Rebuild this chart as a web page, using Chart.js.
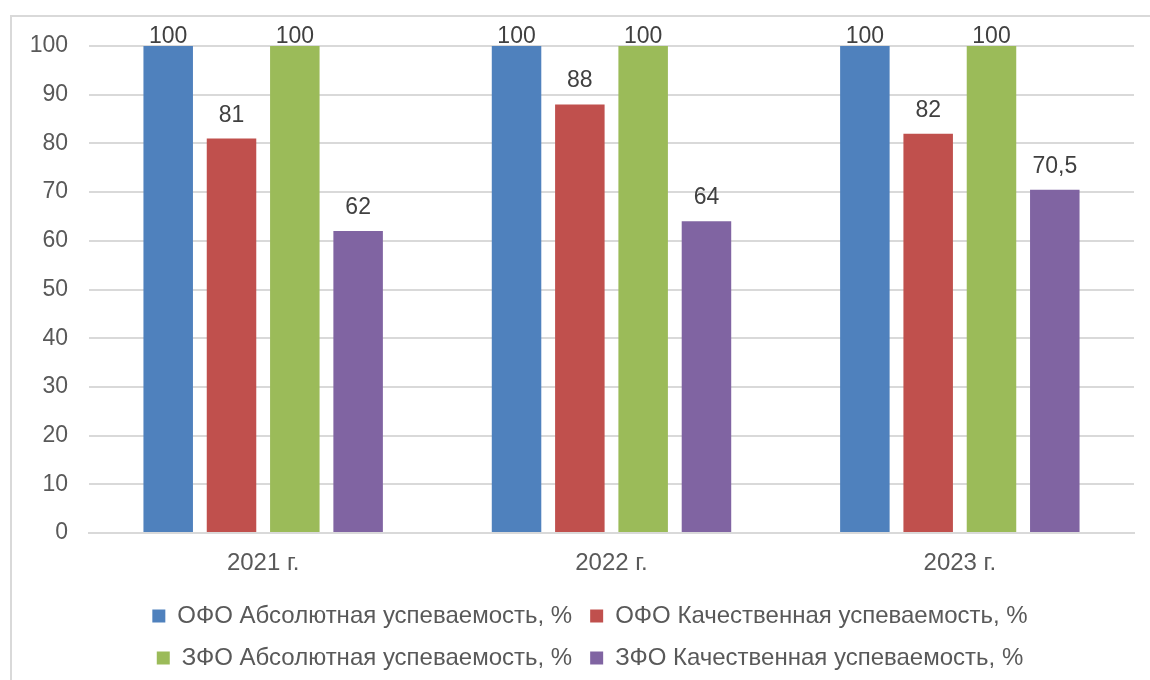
<!DOCTYPE html>
<html lang="ru">
<head>
<meta charset="utf-8">
<script src="https://cdn.jsdelivr.net/npm/chart.js@4.4.1/dist/chart.umd.min.js"></script>
<style>
  html, body { margin: 0; padding: 0; background: #fff; }
  #frame {
    position: absolute; left: 10px; top: 15px; width: 1160px; height: 700px;
    border: 2px solid #d9d9d9; box-sizing: border-box;
  }
  #wrap { position: absolute; left: 0; top: 0; width: 1150px; height: 680px; }
</style>
</head>
<body>
<div id="frame"></div>
<div id="wrap"><canvas id="myChart"></canvas></div>
<script>
const years = ["2021 г.", "2022 г.", "2023 г."];
const seriesNames = [
  "ОФО Абсолютная успеваемость, %",
  "ОФО Качественная успеваемость, %",
  "ЗФО Абсолютная успеваемость, %",
  "ЗФО Качественная успеваемость, %"
];
const ofoAbs = [100, 100, 100];
const ofoKach = [81, 88, 82];
const zfoAbs = [100, 100, 100];
const zfoKach = [62, 64, 70.5];
const yTicks = [0, 10, 20, 30, 40, 50, 60, 70, 80, 90, 100];

const colores = ["#4f81bd", "#c0504d", "#9bbb59", "#8064a2"];
const valores = [ofoAbs, ofoKach, zfoAbs, zfoKach];
const fuente = "'Liberation Sans', Arial, sans-serif";

// etiquetas encima de las barras (sin plugin externo)
const etiquetas = {
  id: "etiquetas",
  afterLayout(chart) {
    // leyenda centrada bajo el área del gráfico, no bajo todo el lienzo
    chart.legend.left += 23;
    chart.legend.right += 23;
  },
  afterDatasetsDraw(chart) {
    const ctx = chart.ctx;
    const top = chart.chartArea.top;
    ctx.save();
    ctx.font = "23px " + fuente;
    ctx.fillStyle = "#404040";
    ctx.textAlign = "center";
    ctx.textBaseline = "alphabetic";
    chart.data.datasets.forEach((ds, i) => {
      chart.getDatasetMeta(i).data.forEach((bar, j) => {
        let y = bar.y - 17;
        if (y < top - 3) y = top - 3;
        ctx.fillText(String(ds.data[j]).replace(".", ","), bar.x, y);
      });
    });
    ctx.restore();
  }
};

new Chart(document.querySelector("#myChart"), {
  type: "bar",
  data: {
    labels: years,
    datasets: seriesNames.map((nombre, i) => ({
      label: nombre,
      data: valores[i],
      backgroundColor: colores[i],
      categoryPercentage: 0.727,
      barPercentage: 0.782
    }))
  },
  options: {
    responsive: true,
    maintainAspectRatio: false,
    animation: false,
    layout: { padding: { top: 46, right: 16, left: 0, bottom: 0 } },
    plugins: {
      legend: {
        position: "bottom",
        labels: {
          boxWidth: 13,
          boxHeight: 13,
          padding: 18,
          color: "#595959",
          font: { family: fuente, size: 24 }
        }
      },
      tooltip: { enabled: false }
    },
    scales: {
      x: {
        grid: { display: false },
        border: { color: "#d9d9d9", width: 2 },
        ticks: { color: "#595959", padding: 8, font: { family: fuente, size: 24 } },
        afterFit(scale) { scale.height = 53; }
      },
      y: {
        min: 0,
        max: 100,
        afterBuildTicks(scale) { scale.ticks = yTicks.map((v) => ({ value: v })); },
        grid: { color: "#d9d9d9", lineWidth: 2, drawTicks: false },
        border: { display: false },
        ticks: { color: "#595959", padding: 21, font: { family: fuente, size: 23 } },
        afterFit(scale) { scale.width = 89; }
      }
    }
  },
  plugins: [etiquetas]
});
</script>
</body>
</html>
